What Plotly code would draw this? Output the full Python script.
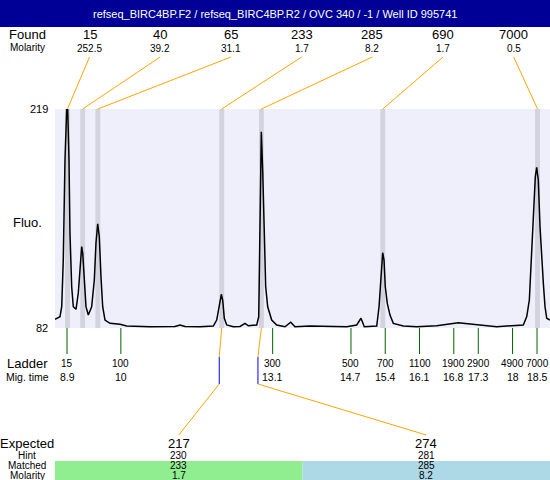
import plotly.graph_objects as go

W, H = 550, 480
# plot box in pixels (left, right, top, bottom)
PL, PR, PT, PB = 55, 550, 109, 328
T0, T1 = 8.655, 18.765
F0, F1 = 82, 219

title = "refseq_BIRC4BP.F2 / refseq_BIRC4BP.R2 / OVC 340 / -1 / Well ID 995741"

# electropherogram
mig_time = [8.655, 8.757, 8.792, 8.824, 8.859, 8.894, 8.914, 8.941, 8.961, 8.996,
            9.029, 9.084, 9.131, 9.166, 9.200, 9.221, 9.247, 9.288, 9.335, 9.404,
            9.458, 9.492, 9.527, 9.560, 9.594, 9.629, 9.676, 9.778, 9.983, 10.119,
            10.595, 11.106, 11.208, 11.310, 11.617, 11.888, 11.958, 12.011, 12.052, 12.080,
            12.113, 12.162, 12.297, 12.434, 12.536, 12.603, 12.775, 12.816, 12.842, 12.869,
            12.897, 12.924, 12.958, 12.999, 13.081, 13.183, 13.353, 13.469, 13.557, 13.863,
            14.613, 14.817, 14.905, 14.972, 15.226, 15.273, 15.313, 15.348, 15.375, 15.401,
            15.442, 15.497, 15.565, 15.769, 16.043, 16.451, 16.892, 17.268, 17.677, 18.220,
            18.290, 18.343, 18.377, 18.424, 18.465, 18.493, 18.526, 18.561, 18.596, 18.629,
            18.663, 18.698, 18.765]
fluo = [87.4, 89.1, 95.3, 124.5, 187.1, 219.0, 219.0, 187.1, 141.4, 107.6,
        95.3, 93.7, 103.9, 116.4, 132.9, 128.9, 114.1, 95.3, 90.1, 95.3,
        112.0, 135.2, 147.1, 139.1, 114.1, 95.3, 87.0, 84.9, 84.3, 83.2,
        82.8, 83.0, 83.9, 83.0, 82.8, 83.2, 87.0, 95.3, 103.1, 99.5,
        88.1, 83.9, 82.8, 83.0, 84.9, 83.4, 83.9, 89.1, 145.4, 204.8,
        180.8, 139.1, 107.8, 95.3, 87.0, 83.9, 82.8, 85.6, 82.8, 83.2,
        82.8, 83.9, 88.1, 82.8, 83.2, 95.3, 116.2, 129.1, 124.5, 107.8,
        97.4, 90.1, 84.9, 83.2, 82.8, 83.4, 85.3, 83.9, 82.8, 83.9,
        89.1, 99.5, 120.3, 153.7, 176.6, 182.5, 174.6, 145.4, 124.5, 110.0,
        95.3, 88.1, 87.0]

found_size = [15, 40, 65, 233, 285, 690, 7000]
found_molarity = [252.5, 39.2, 31.1, 1.7, 8.2, 1.7, 0.5]
found_time = [8.91, 9.22, 9.53, 12.06, 12.87, 15.35, 18.51]

ladder_size = [15, 100, 300, 500, 700, 1100, 1900, 2900, 4900, 7000]
ladder_time = [8.9, 10, 13.1, 14.7, 15.4, 16.1, 16.8, 17.3, 18, 18.5]

expected_size = [217, 274]
expected_hint = [230, 281]
expected_matched = [233, 285]
expected_molarity = [1.7, 8.2]
expected_time = [12.01, 12.80]
expected_peak = [3, 4]  # index into found_*
expected_colors = ["#90EE90", "#ADD8E6"]

FONT = "Liberation Sans"
ORANGE = "#FFA500"


def px(x):
    return x / W


def py(y):
    return 1 - y / H


def t2px(t):
    return PL + (t - T0) / (T1 - T0) * (PR - PL)


fig = go.Figure()
fig.add_trace(go.Scatter(x=mig_time, y=fluo, mode="lines",
                         line=dict(color="black", width=1.5), hoverinfo="skip"))

shapes = []
ann = []


def text(x, y, s, size, color="black", xanchor="center", xref="paper", yref="paper"):
    ann.append(dict(x=x, y=y, xref=xref, yref=yref, text=s, showarrow=False,
                    xanchor=xanchor, yanchor="middle", borderpad=0,
                    font=dict(family=FONT, size=size, color=color)))


def line(x0, y0, x1, y1, color, width=1):
    shapes.append(dict(type="line", xref="paper", yref="paper",
                       x0=px(x0), y0=py(y0), x1=px(x1), y1=py(y1),
                       line=dict(color=color, width=width)))


# title bar
shapes.append(dict(type="rect", xref="paper", yref="paper", x0=0, x1=1,
                   y0=py(27), y1=1, fillcolor="#000096", line_width=0))
text(0.5, py(14), title, 11, color="white")

# found peaks: grey bands, labels, connectors
text(px(27), py(35), "Found", 13)
text(px(27), py(48), "Molarity", 10)
for i, (s, m, t) in enumerate(zip(found_size, found_molarity, found_time)):
    lx = 89.5 + 70.7 * i
    text(px(lx), py(35), str(s), 13)
    text(px(lx), py(49), str(m), 10)
    shapes.append(dict(type="rect", xref="x", yref="y", x0=t - 0.05, x1=t + 0.05,
                       y0=F0, y1=F1, fillcolor="#D3D3E0", line_width=0, layer="below"))
    line(lx, 57, t2px(t), PT, ORANGE)

# y labels
text(px(49), F1, "219", 11, xanchor="right", yref="y")
text(px(49), F0, "82", 11, xanchor="right", yref="y")
text(px(27), py(222), "Fluo.", 13)

# ladder
text(px(27), py(363), "Ladder", 13)
text(px(27), py(377), "Mig. time", 10.5)
for s, t in zip(ladder_size, ladder_time):
    shapes.append(dict(type="line", xref="x", yref="paper", x0=t, x1=t,
                       y0=py(PB), y1=py(354), line=dict(color="#006400", width=1)))
    text(t, py(363), str(s), 10, xref="x")
    text(t, py(377), str(t), 10.5, xref="x")

# expected panel
rows_y = [443.5, 455, 465.5, 475.5]
text(px(27), py(rows_y[0]), "Expected", 13)
text(px(27), py(rows_y[1]), "Hint", 10)
text(px(27), py(rows_y[2]), "Matched", 10)
text(px(27), py(rows_y[3]), "Molarity", 10)
col_w = (PR - PL) / len(expected_size)
for i in range(len(expected_size)):
    cx = PL + col_w * (i + 0.5)
    shapes.append(dict(type="rect", xref="paper", yref="paper",
                       x0=px(PL + col_w * i), x1=px(PL + col_w * (i + 1)),
                       y0=0, y1=py(461), fillcolor=expected_colors[i], line_width=0))
    text(px(cx), py(rows_y[0]), str(expected_size[i]), 13)
    text(px(cx), py(rows_y[1]), str(expected_hint[i]), 10)
    text(px(cx), py(rows_y[2]), str(expected_matched[i]), 10)
    text(px(cx), py(rows_y[3]), str(expected_molarity[i]), 10)
    pk = t2px(found_time[expected_peak[i]])
    ex = t2px(expected_time[i])
    line(pk, PB, ex, 357, ORANGE)
    line(ex, 357, ex, 384, "#0000FF")
    line(ex, 384, cx, 435, ORANGE)

fig.update_layout(
    width=W, height=H,
    margin=dict(l=0, r=0, t=0, b=0),
    paper_bgcolor="white",
    plot_bgcolor="rgb(239,239,252)",
    showlegend=False,
    shapes=shapes,
    annotations=ann,
    xaxis=dict(domain=[px(PL), px(PR)], range=[T0, T1], showgrid=False,
               zeroline=False, showticklabels=False, ticks=""),
    yaxis=dict(domain=[py(PB), py(PT)], range=[F0, F1], showgrid=False,
               zeroline=False, showticklabels=False, ticks=""),
)

# page has a default body margin; drop it so the chart sits at 0,0
fig.write_html("out.html", config={"displayModeBar": False},
               post_script="document.body.style.margin='0';")
